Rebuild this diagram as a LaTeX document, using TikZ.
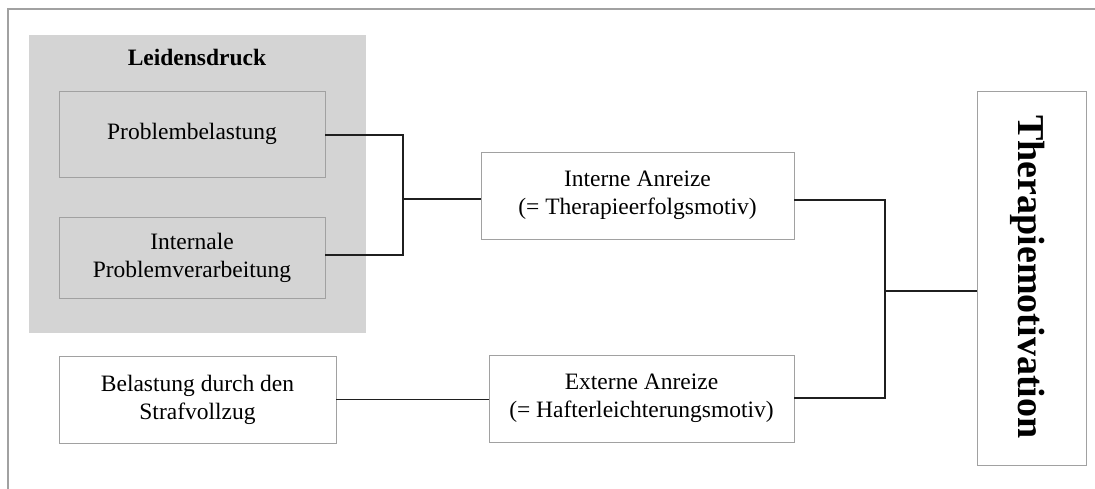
\documentclass[tikz,border=0pt]{standalone}
\usepackage{fontspec}
\setmainfont{Liberation Serif}
\begin{document}
\begin{tikzpicture}[x=1pt,y=-1pt,
  framecol/.style={draw=black!37,line width=1.3pt},
  box/.style={draw=black!37,line width=0.9pt,align=center,inner sep=0pt,
    font=\fontsize{23.5}{28}\selectfont},
  conn/.style={draw=black!88,line width=1.4pt}]
\useasboundingbox (0,0) rectangle (1095,489);
% outer frame (top and left edges visible)
\draw[framecol] (8,489) -- (8,9) -- (1095,9);
% Leidensdruck group
\node[fill=black!17,minimum width=337pt,minimum height=298pt,inner sep=0pt] (leid) at (197.5,184) {};
\node[font=\bfseries\fontsize{23.5}{28}\selectfont,inner sep=0pt] (leidt) at (197,57) {Leidensdruck};
\node[box,minimum width=266pt,minimum height=86pt] (prob) at (192,134) {Problembelastung};
\node[box,minimum width=266pt,minimum height=81pt] (intl) at (192,257.5) {Internale\\Problemverarbeitung};
\node[box,minimum width=277pt,minimum height=87pt] (bel) at (197.5,399.5) {Belastung durch den\\Strafvollzug};
\node[box,minimum width=313pt,minimum height=87pt] (int) at (637.5,195.5) {Interne Anreize\\(= Therapieerfolgsmotiv)};
\node[box,minimum width=305pt,minimum height=87pt] (ext) at (641.5,398.5) {Externe Anreize\\(= Hafterleichterungsmotiv)};
\node[box,minimum width=109pt,minimum height=374pt] (ther) at (1031.5,278) {};
\node[font=\bfseries\fontsize{38}{40}\selectfont,rotate=-90,inner sep=0pt] (thert) at (1028,277) {Therapiemotivation};
% connectors
\coordinate (j1t) at (403,135);
\coordinate (j1b) at (403,255);
\coordinate (j1) at (403,199);
\coordinate (j2t) at (885,200);
\coordinate (j2b) at (885,398);
\coordinate (j2) at (885,291);
\draw[conn] (j1t -| prob.east) -- (j1t) -- (j1b) -- (j1b -| intl.east);
\draw[conn] (j1) -- (j1 -| int.west);
\draw[conn] (bel.east) -- (bel.east -| ext.west);
\draw[conn] (j2t -| int.east) -- (j2t) -- (j2b) -- (j2b -| ext.east);
\draw[conn] (j2) -- (j2 -| ther.west);
\end{tikzpicture}
\end{document}
